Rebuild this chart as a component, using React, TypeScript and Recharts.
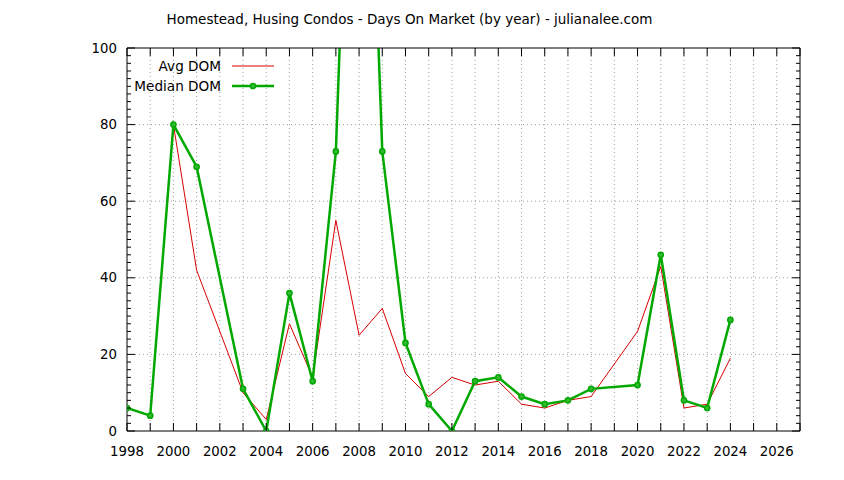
import React from 'react';
import { LineChart, Line, XAxis, YAxis, CartesianGrid, Legend } from 'recharts';

const title = 'Homestead, Husing Condos - Days On Market (by year) - julianalee.com';

const years = [1998, 1999, 2000, 2001, 2002, 2003, 2004, 2005, 2006, 2007, 2008, 2009, 2010, 2011, 2012, 2013, 2014, 2015, 2016, 2017, 2018, 2019, 2020, 2021, 2022, 2023, 2024];
const avgDom: (number | null)[] = [6, 4, 80, 42, null, 10, 3, 28, 14, 55, 25, 32, 15, 9, 14, 12, 13, 7, 6, 8, 9, null, 26, 43, 6, 7, 19];
const medianDom: (number | null)[] = [6, 4, 80, 69, null, 11, 0, 36, 13, 73, 240, 73, 23, 7, 0, 13, 14, 9, 7, 8, 11, null, 12, 46, 8, 6, 29];

const xTicks = [1998, 1999, 2000, 2001, 2002, 2003, 2004, 2005, 2006, 2007, 2008, 2009, 2010, 2011, 2012, 2013, 2014, 2015, 2016, 2017, 2018, 2019, 2020, 2021, 2022, 2023, 2024, 2025, 2026, 2027];
const xLabelTicks = [1998, 2000, 2002, 2004, 2006, 2008, 2010, 2012, 2014, 2016, 2018, 2020, 2022, 2024, 2026];
const yTicks = [0, 2, 4, 6, 8, 10, 12, 14, 16, 18, 20, 22, 24, 26, 28, 30, 32, 34, 36, 38, 40, 42, 44, 46, 48, 50, 52, 54, 56, 58, 60, 62, 64, 66, 68, 70, 72, 74, 76, 78, 80, 82, 84, 86, 88, 90, 92, 94, 96, 98, 100];
const yLabelTicks = [0, 20, 40, 60, 80, 100];
const yGrid = [20, 40, 60, 80];
const xGrid = xTicks.slice(1, -1);

const seriesNames = { avg: 'Avg DOM', median: 'Median DOM' };

const data = years.map((year, i) => ({ year, avg: avgDom[i], median: medianDom[i] }));

const FONT = "'DejaVu Sans', Verdana, sans-serif";
const FS = 13.3;
const RED = '#d80000';
const GREEN = '#00a800';

const BottomTick = (props: any) => {
  const { x, y, payload } = props;
  const v = payload.value;
  return (
    <g>
      <line x1={x} x2={x} y1={y} y2={y - 8} stroke="#000" strokeWidth={1} />
      {xLabelTicks.includes(v) && (
        <text x={x} y={y + 20} textAnchor="middle" dominantBaseline="central" fontFamily={FONT} fontSize={FS} fill="#000">
          {v}
        </text>
      )}
    </g>
  );
};

const TopTick = (props: any) => {
  const { x, y } = props;
  return <line x1={x} x2={x} y1={y} y2={y + 8} stroke="#000" strokeWidth={1} />;
};

const LeftTick = (props: any) => {
  const { x, y, payload } = props;
  const v = payload.value;
  const major = yLabelTicks.includes(v);
  return (
    <g>
      <line x1={x} x2={x + (major ? 8 : 4)} y1={y} y2={y} stroke="#000" strokeWidth={1} />
      {major && (
        <text x={x - 10} y={y} textAnchor="end" dominantBaseline="central" fontFamily={FONT} fontSize={FS} fill="#000">
          {v}
        </text>
      )}
    </g>
  );
};

const RightTick = (props: any) => {
  const { x, y, payload } = props;
  const major = yLabelTicks.includes(payload.value);
  return <line x1={x} x2={x - (major ? 8 : 4)} y1={y} y2={y} stroke="#000" strokeWidth={1} />;
};

const LegendBox = () => (
  <svg width={170} height={42} style={{ display: 'block' }}>
    <text x={101} y={10} textAnchor="end" dominantBaseline="central" fontFamily={FONT} fontSize={13.6} fill="#000">
      {seriesNames.avg}
    </text>
    <line x1={112} x2={154} y1={10} y2={10} stroke={RED} strokeWidth={1} />
    <text x={101} y={30} textAnchor="end" dominantBaseline="central" fontFamily={FONT} fontSize={13.6} fill="#000">
      {seriesNames.median}
    </text>
    <line x1={112} x2={154} y1={30} y2={30} stroke={GREEN} strokeWidth={2.5} />
    <circle cx={133} cy={30} r={2.6} fill="#33b833" stroke={GREEN} strokeWidth={1.5} />
  </svg>
);

export default function App() {
  return (
    <div style={{ position: 'absolute', left: 0, top: 0, width: 844, height: 480, background: '#fff' }}>
      <div
        style={{
          position: 'absolute',
          left: 0,
          top: 10,
          width: 819,
          height: 18,
          lineHeight: '18px',
          textAlign: 'center',
          fontFamily: FONT,
          fontSize: 13.5,
          color: '#000',
          whiteSpace: 'nowrap',
        }}
      >
        {title}
      </div>
      <LineChart width={844} height={480} data={data} margin={{ top: 47, right: 43, bottom: 19, left: 67 }}>
        <CartesianGrid
          xAxisId="b"
          yAxisId="l"
          horizontalValues={yGrid}
          verticalValues={xGrid}
          stroke="#a0a0a0"
          strokeDasharray="1 3"
        />
        <XAxis
          xAxisId="b"
          dataKey="year"
          type="number"
          domain={[1998, 2027]}
          allowDataOverflow
          ticks={xTicks}
          interval={0}
          height={30}
          tickSize={0}
          tickMargin={0}
          tickLine={false}
          axisLine={{ stroke: '#000', strokeWidth: 1 }}
          tick={<BottomTick />}
        />
        <XAxis
          xAxisId="t"
          orientation="top"
          dataKey="year"
          type="number"
          domain={[1998, 2027]}
          allowDataOverflow
          ticks={xTicks}
          interval={0}
          height={1}
          tickSize={0}
          tickMargin={0}
          tickLine={false}
          axisLine={{ stroke: '#000', strokeWidth: 1 }}
          tick={<TopTick />}
        />
        <YAxis
          yAxisId="l"
          type="number"
          domain={[0, 100]}
          allowDataOverflow
          ticks={yTicks}
          interval={0}
          width={60}
          tickSize={0}
          tickMargin={0}
          tickLine={false}
          axisLine={{ stroke: '#000', strokeWidth: 1 }}
          tick={<LeftTick />}
        />
        <YAxis
          yAxisId="r"
          orientation="right"
          type="number"
          domain={[0, 100]}
          allowDataOverflow
          ticks={yTicks}
          interval={0}
          width={1}
          tickSize={0}
          tickMargin={0}
          tickLine={false}
          axisLine={{ stroke: '#000', strokeWidth: 1 }}
          tick={<RightTick />}
        />
        <Legend
          layout="vertical"
          align="center"
          verticalAlign="middle"
          content={() => <LegendBox />}
          wrapperStyle={{ left: 120, top: 56, width: 170, height: 42 }}
        />
        <Line
          xAxisId="b"
          yAxisId="l"
          type="linear"
          dataKey="avg"
          name={seriesNames.avg}
          stroke={RED}
          strokeWidth={1}
          dot={false}
          activeDot={false}
          connectNulls
          isAnimationActive={false}
        />
        <Line
          xAxisId="b"
          yAxisId="l"
          type="linear"
          dataKey="median"
          name={seriesNames.median}
          stroke={GREEN}
          strokeWidth={2.5}
          dot={{ r: 2.6, fill: '#33b833', stroke: GREEN, strokeWidth: 1.5 }}
          activeDot={false}
          connectNulls
          isAnimationActive={false}
        />
      </LineChart>
    </div>
  );
}
